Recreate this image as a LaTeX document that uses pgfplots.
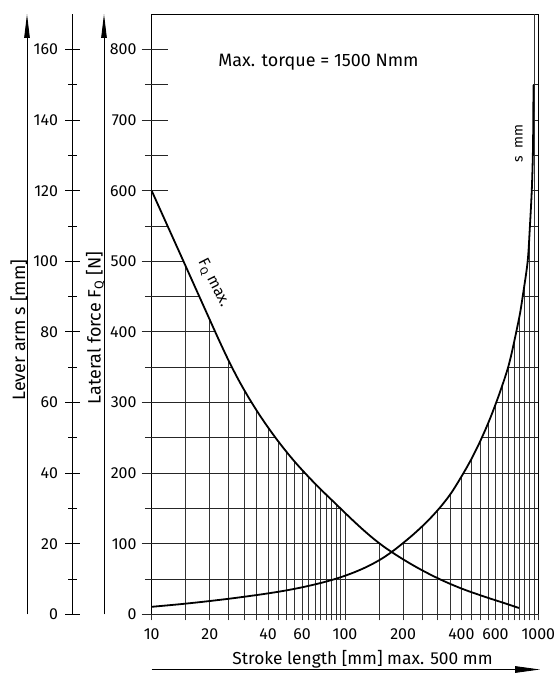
\documentclass[border=0pt]{standalone}
\usepackage{fontspec}
\setmainfont{Fira Sans}
\usepackage{pgfplots}
\usepackage{pgfplotstable}
\pgfplotsset{compat=1.18}
\usetikzlibrary{arrows.meta}
% F_Q max [N] read along the stroke length [mm]
\pgfplotstableread{
x F
10 600
11.22 569.6
12.59 539.2
14.13 508.8
15.85 478.4
17.78 448
19.95 417.6
22.39 387.2
25.12 358.2
28.18 331.7
31.62 307.7
35.48 285.7
39.81 265.5
44.67 246.7
50.12 229.2
56.23 213.0
63.10 198.0
70.79 183.7
79.43 170.2
89.13 157.0
100 143.7
112.2 130.7
125.9 118.2
141.3 106.5
158.5 96.0
177.8 86.7
199.5 78.0
223.9 69.8
251.2 62.2
281.8 55.1
316.2 48.5
354.8 42.4
398.1 36.8
446.7 31.7
501.2 27.0
562.3 22.4
631.0 18.0
707.9 13.5
794.3 8.9
}\Fcurve
% lever arm s, drawn on the force scale (s mm x 5)
\pgfplotstableread{
x S
10 10.6
11.22 11.85
12.59 13.1
14.13 14.4
15.85 15.8
17.78 17.25
19.95 18.8
22.39 20.4
25.12 22.05
28.18 23.8
31.62 25.65
35.48 27.55
39.81 29.55
44.67 31.7
50.12 34.05
56.23 36.65
63.10 39.55
70.79 42.7
79.43 46.2
89.13 50.1
100 54.6
112.2 59.75
125.9 65.65
141.3 72.5
158.5 80.5
177.8 90
199.5 100.8
223.9 112.3
251.2 124.8
281.8 138.55
316.2 154.05
354.8 172.05
398.1 194
446.7 218
501.2 245.5
562.3 277
631.0 313.5
707.9 356
794.3 418.5
830 450
881 500
905 550
925 600
937 650
942 700
944 750
}\Scurve
\begin{document}
\begin{tikzpicture}
\useasboundingbox (0,0) rectangle (559bp,673bp);
% lever arm scale
\begin{axis}[
  at={(72.7bp,58.7bp)}, anchor=south west,
  scale only axis, width=20bp, height=600bp,
  xmin=0, xmax=1, ymin=0, ymax=170,
  hide x axis, axis y line*=left,
  y axis line style={line width=0.9bp},
  ytick={0,20,...,160}, minor ytick={10,30,...,150},
  tick align=center, major tick length=15bp, minor tick length=9bp,
  every tick/.style={line width=0.9bp, black},
  yticklabel style={anchor=east, inner sep=0pt, xshift=-7bp, font=\fontsize{16}{16}\selectfont},
  /pgf/number format/assume math mode=true,
]
\end{axis}
% main chart
\begin{axis}[
  at={(151.7bp,58.7bp)}, anchor=south west,
  scale only axis, width=386.6bp, height=600bp,
  xmode=log, xmin=10, xmax=1000, ymin=0, ymax=850,
  clip=false, unbounded coords=jump,
  axis line style={line width=0.9bp},
  xtick={10,20,40,60,100,200,400,600,1000},
  xticklabels={10,20,40,60,100,200,400,600,1000},
  xminorticks=false, yminorticks=false,
  ytick={0,100,...,800},
  major tick length=0pt,
  yticklabel style={anchor=east, inner sep=0pt, xshift=-15bp},
  xticklabel style={anchor=north, inner sep=0pt, yshift=-14.5bp},
  tick label style={font=\fontsize{16}{16}\selectfont},
  /pgf/number format/assume math mode=true,
  /pgf/number format/1000 sep={},
]
% vertical grid lines (up to the upper curve), with tick below axis
\addplot[line width=0.8bp, black!80] coordinates {
(10,-8.5)(10,0) (10,nan)
(15,-8.5)(15,492.9) (15,nan)
(20,-8.5)(20,417) (20,nan)
(25,-8.5)(25,359.4) (25,nan)
(30,-8.5)(30,318.7) (30,nan)
(35,-8.5)(35,288.3) (35,nan)
(40,-8.5)(40,264.7) (40,nan)
(45,-8.5)(45,245.6) (45,nan)
(50,-8.5)(50,229.5) (50,nan)
(55,-8.5)(55,216.1) (55,nan)
(60,-8.5)(60,204.5) (60,nan)
(65,-8.5)(65,194.3) (65,nan)
(70,-8.5)(70,185.1) (70,nan)
(75,-8.5)(75,176.9) (75,nan)
(80,-8.5)(80,169.4) (80,nan)
(85,-8.5)(85,162.4) (85,nan)
(90,-8.5)(90,155.9) (90,nan)
(95,-8.5)(95,149.6) (95,nan)
(100,-8.5)(100,143.7) (100,nan)
(150,-8.5)(150,101) (150,nan)
(200,-8.5)(200,101) (200,nan)
(250,-8.5)(250,124.3) (250,nan)
(300,-8.5)(300,147) (300,nan)
(350,-8.5)(350,169.9) (350,nan)
(400,-8.5)(400,195) (400,nan)
(450,-8.5)(450,219.8) (450,nan)
(500,-8.5)(500,245) (500,nan)
(550,-8.5)(550,271) (550,nan)
(600,-8.5)(600,297.6) (600,nan)
(650,-8.5)(650,324.5) (650,nan)
(700,-8.5)(700,351.8) (700,nan)
(750,-8.5)(750,387.4) (750,nan)
(800,-8.5)(800,423.6) (800,nan)
(850,-8.5)(850,470) (850,nan)
(900,-8.5)(900,539.7) (900,nan)
(950,-8.5)(950,850) (950,nan)
(1000,-8.5)(1000,0)
};
% horizontal grid lines (outside the region between the curves)
\addplot[line width=1bp, black!85] coordinates {
(8.88,0)(1000,0) (1000,nan)
(9.23,50)(1000,50) (1000,nan)
(8.88,100)(151.5,100) (151.5,nan) (197.8,100)(1000,100) (1000,nan)
(9.23,150)(94.7,150) (94.7,nan) (306.9,150)(1000,150) (1000,nan)
(8.88,200)(62.1,200) (62.1,nan) (409.9,200)(1000,200) (1000,nan)
(9.23,250)(43.8,250) (43.8,nan) (509.4,250)(1000,250) (1000,nan)
(8.88,300)(32.9,300) (32.9,nan) (604.5,300)(1000,300) (1000,nan)
(9.23,350)(26.0,350) (26.0,nan) (696.6,350)(1000,350) (1000,nan)
(8.88,400)(21.3,400) (21.3,nan) (767.8,400)(1000,400) (1000,nan)
(9.23,450)(17.6,450) (17.6,nan) (830,450)(1000,450) (1000,nan)
(8.88,500)(14.6,500) (14.6,nan) (881,500)(1000,500) (1000,nan)
(9.23,550)(12.14,550) (12.14,nan) (905,550)(1000,550) (1000,nan)
(8.88,600)(12.14,600) (12.14,nan) (925,600)(1000,600) (1000,nan)
(9.23,650)(12.14,650) (12.14,nan) (937,650)(1000,650) (1000,nan)
(8.88,700)(12.14,700) (12.14,nan) (942,700)(1000,700) (1000,nan)
(9.23,750)(12.14,750) (12.14,nan) (944,750)(1000,750) (1000,nan)
(8.88,800)(12.14,800)
};
% F_Q max curve
\addplot[line width=1.8bp, black, smooth] table[x=x, y=F] {\Fcurve};
% lever arm s curve
\addplot[line width=1.8bp, black, smooth] table[x=x, y=S] {\Scurve};
\end{axis}
% axis arrows and labels
\draw[line width=0.9bp, -{Triangle[length=24bp,width=5.5bp]}] (27bp,58.7bp) -- (27bp,659bp);
\draw[line width=0.9bp, -{Triangle[length=24bp,width=5.5bp]}] (104bp,58.7bp) -- (104bp,659bp);
\draw[line width=0.9bp, -{Triangle[length=25bp,width=6.6bp]}] (151.7bp,3.5bp) -- (540bp,3.5bp);
\node[rotate=90, anchor=base, inner sep=0pt] at (25bp,343bp) {\fontsize{18}{18}\selectfont Lever arm s [mm]};
\node[rotate=90, anchor=base, inner sep=0pt] at (100.5bp,345bp) {\fontsize{18}{18}\selectfont Lateral force F\textsubscript{Q} [N]};
\node[anchor=base, inner sep=0pt] at (362.5bp,9bp) {\fontsize{17.4}{18}\selectfont Stroke length [mm] max. 500 mm};
\node[inner sep=0pt] at (318.5bp,611bp) {\fontsize{18}{18}\selectfont Max. torque = 1500 Nmm};
\node[rotate=-63, inner sep=0pt] at (213bp,390bp) {\fontsize{15.5}{15.5}\selectfont F\textsubscript{Q} max.};
\node[rotate=90, inner sep=0pt] at (519bp,529.5bp) {\fontsize{14}{14}\selectfont s\ \ mm};
\end{tikzpicture}
\end{document}
